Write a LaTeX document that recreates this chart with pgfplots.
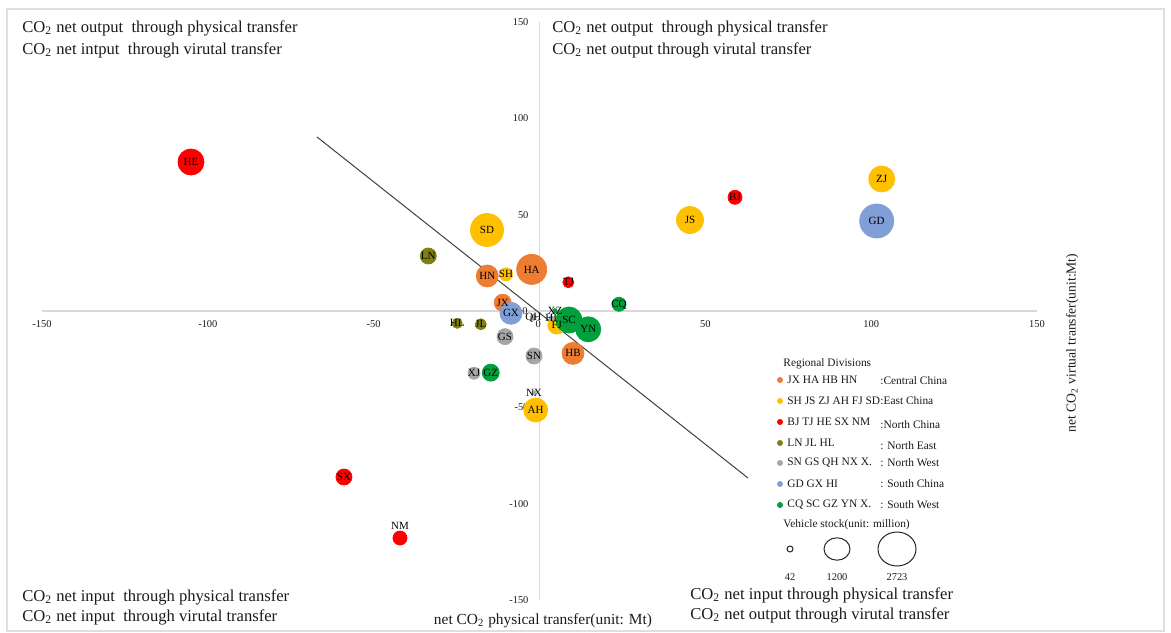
\documentclass[border=0pt]{standalone}
\usepackage{fontspec}
\setmainfont{Liberation Serif}
\usepackage{pgfplots}
\pgfplotsset{compat=1.18}
\usepackage{pgfplotstable}

\definecolor{corange}{HTML}{ED7D31}
\definecolor{cyellow}{HTML}{FFC000}
\definecolor{cred}{HTML}{FF0000}
\definecolor{colive}{RGB}{128,128,16}
\definecolor{cgray}{HTML}{A6A6A6}
\definecolor{cblue}{HTML}{7F9FD6}
\definecolor{cgreen}{HTML}{00A03C}
\definecolor{axgray}{HTML}{D9D9D9}
\definecolor{txt}{HTML}{1A1A1A}

\newcommand{\COt}{CO\textsubscript{2}}

% x y r(px) label
\pgfplotstableread{
x y r label
-11.1 4.3 8.5 JX
-2.35 21.6 15 HA
10.1 -22.0 11 HB
-15.75 18.17 11 HN
}\central
\pgfplotstableread{
x y r label
-10.1 19.0 6.5 SH
45.38 47.23 13.5 JS
103.17 68.51 13 ZJ
-1.15 -51.4 12 AH
5.2 -7.3 9 FJ
-15.83 42.04 16.5 SD
}\east
\pgfplotstableread{
x y r label
58.94 59.0 7 BJ
8.69 14.9 5.5 TJ
-105.08 77.33 13 HE
-58.95 -86.16 8 SX
}\north
\pgfplotstableread{
x y r label
-42.06 -117.82 7 NM
}\northb
\pgfplotstableread{
x y r label
-33.53 28.55 8 LN
-17.7 -6.9 5.5 JL
-24.8 -6.4 5 HL
}\northeast
\pgfplotstableread{
x y r label
-1.66 -23.36 8 SN
-10.4 -13.3 8 GS
-1.87 -3.3 3 QH
-1.66 -42.4 2 NX
-19.75 -32.3 6 XJ
}\northwest
\pgfplotstableread{
x y r label
101.66 46.71 17 GD
-8.6 -1.2 11 GX
3.5 -3.6 2 HI
}\south
\pgfplotstableread{
x y r label
23.97 3.5 7 CQ
8.9 -4.67 13 SC
-14.7 -32.0 8.5 GZ
14.7 -9.5 12.5 YN
4.67 0.16 2 XZ
}\southwest

\pgfplotsset{
  bubble/.style={scatter, only marks, mark=*,
    scatter/use mapped color={draw=#1, fill=#1},
    visualization depends on={0.5*\thisrow{r} \as \rad},
    scatter/@pre marker code/.append style={/tikz/mark size=\rad}},
  lbl/.style={only marks, mark=none,
    point meta=explicit symbolic,
    nodes near coords,
    every node near coord/.append style={anchor=#1,
      font=\fontsize{5.5}{6}\selectfont, text=black, inner sep=1pt}},
  lbl/.default=center,
}

\begin{document}
\begin{tikzpicture}
\begin{axis}[
  scale only axis, width=497.5pt, height=289pt,
  xmin=-150, xmax=150, ymin=-150, ymax=150,
  axis lines=middle,
  axis line style={draw=axgray, line width=0.8pt, -},
  xtick={-150,-100,-50,50,100,150},
  ytick={-150,-100,-50,50,100,150},
  major tick length=0pt,
  tick label style={font=\fontsize{5.2}{6}\selectfont, text=txt},
  xticklabel style={yshift=-1.5pt},
  yticklabel style={xshift=-2pt},
  /pgf/number format/assume math mode=true,
  clip=false,
]
% bubbles
\addplot[bubble=corange] table[x=x,y=y] {\central};
\addplot[bubble=cyellow] table[x=x,y=y] {\east};
\addplot[bubble=cred] table[x=x,y=y] {\north};
\addplot[bubble=cred] table[x=x,y=y] {\northb};
\addplot[bubble=colive] table[x=x,y=y] {\northeast};
\addplot[bubble=cgray] table[x=x,y=y] {\northwest};
\addplot[bubble=cblue] table[x=x,y=y] {\south};
\addplot[bubble=cgreen] table[x=x,y=y] {\southwest};
% labels
\addplot[lbl] table[x=x,y=y,meta=label] {\central};
\addplot[lbl] table[x=x,y=y,meta=label] {\east};
\addplot[lbl] table[x=x,y=y,meta=label] {\north};
\addplot[lbl=south, every node near coord/.append style={yshift=3pt}] table[x=x,y=y,meta=label] {\northb};
\addplot[lbl] table[x=x,y=y,meta=label] {\northeast};
\addplot[lbl] table[x=x,y=y,meta=label] {\northwest};
\addplot[lbl] table[x=x,y=y,meta=label] {\south};
\addplot[lbl] table[x=x,y=y,meta=label] {\southwest};
% diagonal line
\addplot[black!75, line width=0.5pt, no marks] coordinates {(-67.08,90.31) (62.86,-86.68)};

% zero tick labels
\node[font=\fontsize{5.2}{6}\selectfont, text=txt] at (axis cs:-4.4,0.15) {0};
\node[font=\fontsize{5.2}{6}\selectfont, text=txt] at (axis cs:-0.35,-6.75) {0};

% frame and bounding
\draw[gray!25, line width=0.6pt] (axis cs:-160.55,156.74) rectangle (axis cs:188.29,-166.09);
\coordinate (BBL) at (axis cs:-162.66,-166.61);
\coordinate (BTR) at (axis cs:190.40,161.42);

% quadrant texts
\begin{scope}[every node/.style={anchor=west, inner sep=0pt, text=txt, font=\fontsize{8.3}{10}\selectfont}]
\node at (axis cs:-156.03,146.88) {\COt{} net output\ \ through physical transfer};
\node at (axis cs:-156.03,135.46) {\COt{} net intput\ \ through virutal transfer};
\node at (axis cs:3.77,146.88) {\COt{} net output\ \ through physical transfer};
\node at (axis cs:3.77,135.46) {\COt{} net output through virutal transfer};
\node at (axis cs:-156.03,-148.44) {\COt{} net input\ \ through physical transfer};
\node at (axis cs:-156.03,-158.82) {\COt{} net input\ \ through virutal transfer};
\node at (axis cs:45.38,-147.40) {\COt{} net input through physical transfer};
\node at (axis cs:45.38,-157.78) {\COt{} net output through virutal transfer};
\end{scope}

% axis titles
\node[text=txt, font=\fontsize{7.7}{9}\selectfont, inner sep=0pt] at (axis cs:1.06,-160.9) {net \COt{} physical transfer(unit: Mt)};
\node[text=txt, font=\fontsize{6.8}{8}\selectfont, inner sep=0pt, rotate=90] at (axis cs:160.6,-16.6) {net \COt{} virtual transfer(unit:Mt)};

% legend
\begin{scope}[every node/.style={anchor=west, inner sep=0pt, text=txt, font=\fontsize{5.7}{7}\selectfont}]
\node at (axis cs:73.42,-27.51) {Regional Divisions};
\node at (axis cs:74.62,-35.81) {JX HA HB HN};
\node at (axis cs:102.66,-36.3) {:Central China};
\node at (axis cs:74.62,-46.71) {SH JS ZJ AH FJ SD};
\node at (axis cs:102.66,-46.71) {:East China};
\node at (axis cs:74.62,-57.61) {BJ TJ HE SX NM};
\node at (axis cs:102.66,-59.1) {:North China};
\node at (axis cs:74.62,-68.51) {LN JL HL};
\node at (axis cs:102.66,-70.0) {: North East};
\node at (axis cs:74.62,-78.89) {SN GS QH NX X.};
\node at (axis cs:102.66,-78.89) {: North West};
\node at (axis cs:74.62,-89.79) {GD GX HI};
\node at (axis cs:102.66,-89.79) {: South China};
\node at (axis cs:74.62,-100.69) {CQ SC GZ YN X.};
\node at (axis cs:102.66,-100.69) {: South West};
\node at (axis cs:73.42,-111.07) {Vehicle stock(unit: million)};
\end{scope}
\fill[corange] (axis cs:72.51,-35.81) circle[radius=1.5pt];
\fill[cyellow] (axis cs:72.51,-46.71) circle[radius=1.5pt];
\fill[cred] (axis cs:72.51,-57.61) circle[radius=1.5pt];
\fill[colive] (axis cs:72.51,-68.51) circle[radius=1.5pt];
\fill[cgray] (axis cs:72.51,-78.89) circle[radius=1.5pt];
\fill[cblue] (axis cs:72.51,-89.79) circle[radius=1.5pt];
\fill[cgreen] (axis cs:72.51,-100.69) circle[radius=1.5pt];
\draw[black!85, line width=0.5pt] (axis cs:75.53,-123.53) circle[radius=1.5pt];
\draw[black!85, line width=0.5pt] (axis cs:89.70,-123.53) ellipse[x radius=6.5pt, y radius=5.6pt];
\draw[black!85, line width=0.5pt] (axis cs:107.79,-123.53) ellipse[x radius=9.5pt, y radius=8.5pt];
\begin{scope}[every node/.style={inner sep=0pt, text=txt, font=\fontsize{5.2}{6}\selectfont}]
\node at (axis cs:75.53,-138.06) {42};
\node at (axis cs:89.70,-138.06) {1200};
\node at (axis cs:107.79,-138.06) {2723};
\end{scope}
\end{axis}
\pgfresetboundingbox
\path[use as bounding box] (BBL) rectangle (BTR);
\end{tikzpicture}
\end{document}
